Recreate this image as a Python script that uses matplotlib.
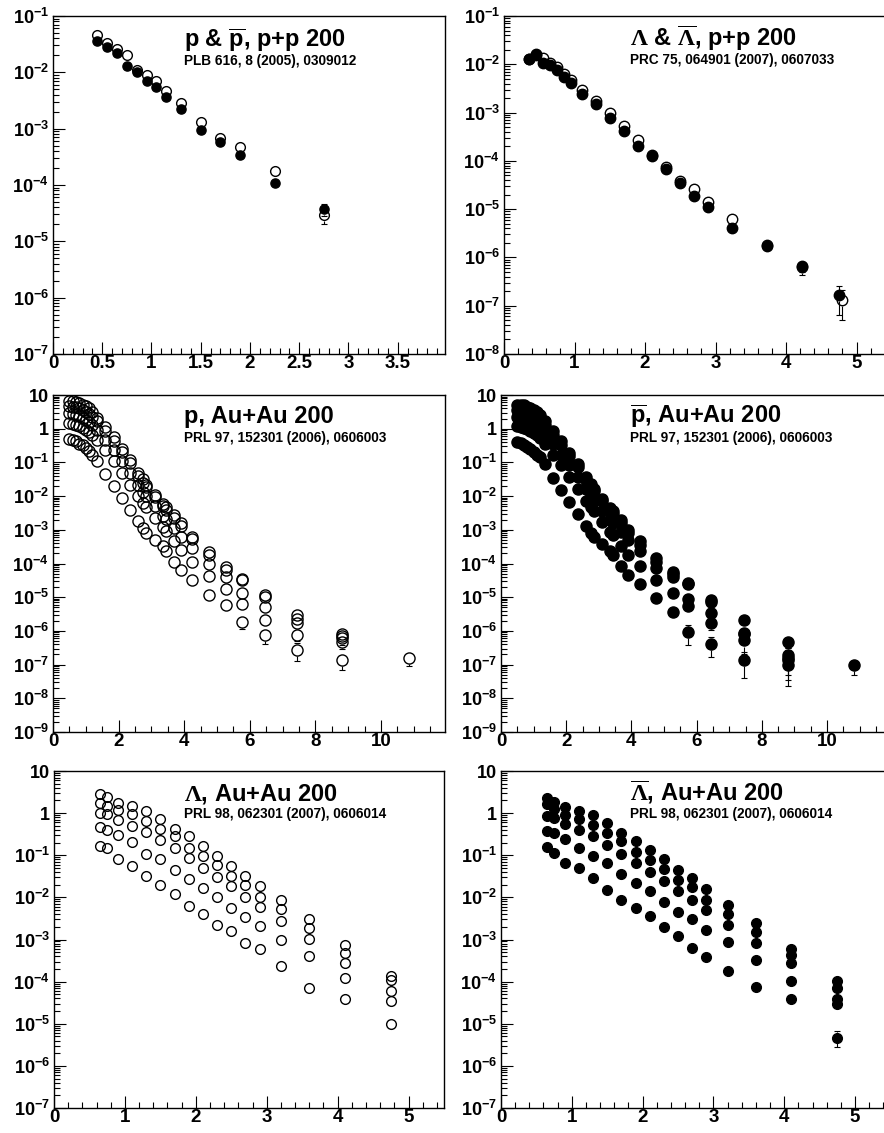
import numpy as np
import matplotlib
matplotlib.use("Agg")
import matplotlib.pyplot as plt
from matplotlib.ticker import FixedLocator, FuncFormatter

plt.rcParams['font.family'] = ['Liberation Sans', 'DejaVu Sans']
plt.rcParams['font.weight'] = 'bold'
plt.rcParams['mathtext.fontset'] = 'custom'
plt.rcParams['mathtext.rm'] = 'Liberation Serif'
plt.rcParams['mathtext.it'] = 'Liberation Serif:italic'
plt.rcParams['mathtext.bf'] = 'Liberation Sans:bold'

# ---- p & pbar, p+p 200 ----
pp_p_pt = [0.45, 0.55, 0.65, 0.75, 0.85, 0.95, 1.05, 1.15, 1.3, 1.5, 1.7, 1.9, 2.25, 2.75]
pp_p = [0.046, 0.033, 0.026, 0.020, 0.0112, 0.0089, 0.0070, 0.0047, 0.0029, 0.00131,
        0.00069, 0.00047, 0.000177, 2.9e-5]
pp_pbar = [0.036, 0.028, 0.0224, 0.013, 0.0102, 0.0070, 0.0054, 0.0036, 0.0022, 0.00093,
           0.00057, 0.000335, 0.000107, 3.7e-5]
pp_p_err = [0] * 13 + [0.3]
pp_pbar_err = [0] * 13 + [0.25]

# ---- Lambda & Lambdabar, p+p 200 ----
pp_lam_pt = [0.35, 0.45, 0.55, 0.65, 0.75, 0.85, 0.95, 1.1, 1.3, 1.5, 1.7, 1.9, 2.1, 2.3,
             2.5, 2.7, 2.9, 3.23, 3.73, 4.23, 4.8]
pp_alam_pt = [0.35, 0.45, 0.55, 0.65, 0.75, 0.85, 0.95, 1.1, 1.3, 1.5, 1.7, 1.9, 2.1, 2.3,
              2.5, 2.7, 2.9, 3.23, 3.73, 4.23, 4.75]
pp_lam = [0.0130, 0.0155, 0.0138, 0.0108, 0.0088, 0.0062, 0.0047, 0.0030, 0.00175, 0.0010,
          0.00053, 0.00027, 0.000132, 7.6e-5, 3.9e-5, 2.6e-5, 1.41e-5, 6.3e-6, 1.8e-6,
          6.3e-7, 1.33e-7]
pp_alam = [0.0127, 0.0162, 0.0108, 0.0095, 0.0075, 0.0055, 0.0041, 0.00248, 0.00149, 0.00079,
           0.00041, 0.000206, 0.000126, 6.7e-5, 3.4e-5, 1.9e-5, 1.13e-5, 4.0e-6, 1.76e-6,
           6.8e-7, 1.63e-7]
pp_lam_err = [0] * 19 + [0.3, 0.62]
pp_alam_err = [0] * 19 + [0.25, 0.6]

# ---- p and pbar, Au+Au 200 (five centralities, top to bottom) ----
aa_p_pt = [0.5, 0.6, 0.7, 0.8, 0.9, 1.0, 1.1, 1.2, 1.35, 1.6, 1.85, 2.1, 2.35, 2.6, 2.75,
           2.85, 3.1, 3.35, 3.45, 3.68, 3.89, 4.25, 4.76, 5.27, 5.75, 6.45, 7.45, 8.8]
aa_p = [
    [6.6, 6.5, 6.2, 5.6, 5.1, 4.6, 4.0, 3.2, 2.1, 1.12, 0.56, 0.25, 0.12, 0.050, 0.032, 0.022,
     0.011, 6.0e-3, 4.8e-3, 2.8e-3, 1.55e-3, 6.2e-4, 2.2e-4, 7.9e-5, 3.5e-5, 1.15e-5, 3.0e-6, 8.3e-7],
    [4.6, 4.5, 4.3, 4.0, 3.6, 3.2, 2.8, 2.3, 1.66, 0.85, 0.43, 0.20, 0.095, 0.040, 0.025, 0.018,
     9.3e-3, 5.0e-3, 4.0e-3, 2.2e-3, 1.26e-3, 5.5e-4, 1.78e-4, 6.6e-5, 3.2e-5, 1.0e-5, 2.3e-6, 7.1e-7],
    [2.9, 2.8, 2.6, 2.4, 2.1, 1.86, 1.58, 1.32, 0.91, 0.47, 0.23, 0.107, 0.050, 0.021, 0.0135, 0.010,
     5.0e-3, 2.6e-3, 2.1e-3, 1.12e-3, 6.2e-4, 2.8e-4, 1.0e-4, 4.0e-5, 1.35e-5, 5.1e-6, 1.7e-6, 6.0e-7],
    [1.48, 1.41, 1.32, 1.2, 1.07, 0.93, 0.79, 0.66, 0.46, 0.23, 0.11, 0.050, 0.022, 0.010, 6.3e-3, 4.7e-3,
     2.3e-3, 1.2e-3, 9.5e-4, 4.7e-4, 2.5e-4, 1.12e-4, 4.2e-5, 1.8e-5, 6.5e-6, 2.1e-6, 7.8e-7, 4.8e-7],
    [0.51, 0.47, 0.42, 0.36, 0.32, 0.27, 0.22, 0.17, 0.11, 0.045, 0.020, 8.9e-3, 4.0e-3, 1.8e-3, 1.12e-3,
     8.3e-4, 5.0e-4, 3.2e-4, 2.4e-4, 1.12e-4, 6.3e-5, 3.2e-5, 1.15e-5, 5.8e-6, 1.9e-6, 7.6e-7, 2.8e-7, 1.4e-7],
]
aa_pbar = [
    [5.2, 5.1, 4.9, 4.5, 4.1, 3.6, 3.2, 2.5, 1.7, 0.87, 0.43, 0.19, 0.089, 0.037, 0.023, 0.0166,
     8.3e-3, 4.4e-3, 3.5e-3, 1.9e-3, 9.8e-4, 4.6e-4, 1.5e-4, 5.6e-5, 2.6e-5, 8.1e-6, 2.1e-6, 4.7e-7],
    [3.6, 3.5, 3.4, 3.2, 2.9, 2.6, 2.2, 1.86, 1.29, 0.66, 0.32, 0.15, 0.071, 0.030, 0.019, 0.0138,
     7.1e-3, 3.7e-3, 3.0e-3, 1.58e-3, 7.9e-4, 3.5e-4, 1.12e-4, 5.0e-5, 2.4e-5, 7.1e-6, 8.9e-7, 1.9e-7],
    [2.3, 2.24, 2.1, 1.9, 1.7, 1.48, 1.26, 1.05, 0.71, 0.35, 0.17, 0.081, 0.037, 0.016, 0.010, 7.4e-3,
     3.7e-3, 1.95e-3, 1.55e-3, 8.5e-4, 4.9e-4, 2.3e-4, 7.6e-5, 4.1e-5, 9.1e-6, 3.4e-6, 7.9e-7, 1.6e-7],
    [1.17, 1.12, 1.05, 0.95, 0.85, 0.74, 0.63, 0.52, 0.35, 0.17, 0.083, 0.038, 0.0166, 7.4e-3, 4.7e-3,
     3.5e-3, 1.74e-3, 8.7e-4, 6.9e-4, 3.3e-4, 1.78e-4, 8.3e-5, 3.2e-5, 1.29e-5, 5.4e-6, 1.74e-6, 5.2e-7, 1.35e-7],
    [0.41, 0.37, 0.33, 0.29, 0.25, 0.21, 0.17, 0.14, 0.087, 0.035, 0.0155, 6.8e-3, 3.0e-3, 1.32e-3, 8.3e-4,
     6.2e-4, 3.7e-4, 2.3e-4, 1.78e-4, 8.3e-5, 4.5e-5, 2.4e-5, 9.5e-6, 3.7e-6, 9.3e-7, 4.2e-7, 1.35e-7, 9.5e-8],
]
# relative errors on the last four points (5.75, 6.45, 7.45, 8.8 GeV/c)
aa_p_err = [[0.1, 0.15, 0.2, 0.25], [0.1, 0.15, 0.2, 0.3], [0.15, 0.2, 0.25, 0.35],
            [0.2, 0.25, 0.35, 0.4], [0.4, 0.45, 0.55, 0.5]]
aa_pbar_err = [[0.15, 0.2, 0.3, 0.35], [0.2, 0.25, 0.45, 0.6], [0.2, 0.3, 0.5, 0.7],
               [0.3, 0.4, 0.6, 0.75], [0.6, 0.6, 0.7, 0.75]]
# single highest-pT point
aa_p_last = (10.85, 1.6e-7, 0.45)
aa_pbar_last = (10.83, 1.0e-7, 0.5)

# ---- Lambda and Lambdabar, Au+Au 200 ----
aa_lam_pt = [0.65, 0.75, 0.9, 1.1, 1.3, 1.5, 1.7, 1.9, 2.1, 2.3, 2.5, 2.7, 2.9, 3.2, 3.6, 4.1, 4.75]
aa_lam = [
    [2.91, 2.43, 1.78, 1.46, 1.11, 0.74, 0.43, 0.285, 0.166, 0.098, 0.056, 0.032, 0.019, 0.0087,
     0.0031, 7.6e-4, 1.35e-4],
    [1.78, 1.46, 1.17, 0.93, 0.66, 0.42, 0.28, 0.151, 0.096, 0.059, 0.033, 0.020, 0.0104, 0.0052,
     0.0019, 4.7e-4, 1.07e-4],
    [0.98, 0.95, 0.68, 0.49, 0.36, 0.23, 0.145, 0.085, 0.051, 0.030, 0.019, 0.0102, 0.0059, 0.0027,
     1.03e-3, 2.8e-4, 6.0e-5],
    [0.46, 0.40, 0.30, 0.21, 0.105, 0.080, 0.045, 0.027, 0.017, 0.0102, 0.0056, 0.0035, 0.0021,
     9.6e-4, 4.0e-4, 1.23e-4, 3.5e-5],
    [0.166, 0.145, 0.080, 0.056, 0.032, 0.020, 0.012, 0.0064, 0.0041, 0.0022, 0.00155, 8.3e-4,
     6.0e-4, 2.34e-4, 7.1e-5, 3.8e-5, 9.8e-6],
]
aa_alam = [
    [2.34, 1.85, 1.36, 1.11, 0.90, 0.57, 0.34, 0.22, 0.133, 0.080, 0.044, 0.0285, 0.0157, 0.0066,
     0.0024, 5.8e-4, 1.02e-4],
    [1.69, 1.22, 0.90, 0.71, 0.52, 0.34, 0.22, 0.12, 0.078, 0.047, 0.026, 0.0174, 0.0087, 0.0040,
     0.0015, 4.3e-4, 6.9e-5],
    [0.85, 0.75, 0.55, 0.40, 0.285, 0.174, 0.107, 0.067, 0.040, 0.024, 0.0138, 0.0085, 0.0049,
     0.0022, 8.3e-4, 2.8e-4, 3.8e-5],
    [0.38, 0.33, 0.24, 0.145, 0.096, 0.065, 0.036, 0.022, 0.0138, 0.0076, 0.0045, 0.0030, 0.0017,
     8.5e-4, 3.2e-4, 1.03e-4, 2.9e-5],
    [0.155, 0.115, 0.067, 0.049, 0.0285, 0.015, 0.0087, 0.0056, 0.0037, 0.0020, 0.00123, 6.3e-4,
     3.8e-4, 1.78e-4, 7.6e-5, 3.8e-5, 4.7e-6],
]
aa_alam_last_err = 0.4

titles = [r'p & $\overline{\mathbf{p}}$, p+p 200', r'$\Lambda$ & $\overline{\Lambda}$, p+p 200',
          'p, Au+Au 200', r'$\overline{\mathbf{p}}$, Au+Au 200',
          r'$\Lambda$, Au+Au 200', r'$\overline{\Lambda}$, Au+Au 200']
refs = ['PLB 616, 8 (2005), 0309012', 'PRC 75, 064901 (2007), 0607033',
        'PRL 97, 152301 (2006), 0606003', 'PRL 97, 152301 (2006), 0606003',
        'PRL 98, 062301 (2007), 0606014', 'PRL 98, 062301 (2007), 0606014']

W, H = 884, 1133
fig = plt.figure(figsize=(W / 100, H / 100), dpi=100)


def place(left, top, right, bottom):
    return fig.add_axes([left / W, 1 - bottom / H, (right - left) / W, (bottom - top) / H])


def ylab(v, pos):
    e = int(round(np.log10(v)))
    if e == 1:
        return '10'
    if e == 0:
        return '1'
    return r'$\mathdefault{10^{%d}}$' % e


def style(ax, xmax, elo, ehi, xmajor, xminor):
    ax.set_yscale('log')
    ax.set_xlim(0, xmax)
    ax.set_ylim(10.0 ** elo, 10.0 ** ehi)
    # only ticks inside the visible range
    ax.xaxis.set_major_locator(FixedLocator(np.arange(0, xmax + 1e-9, xmajor)))
    ax.xaxis.set_minor_locator(FixedLocator(np.arange(0, xmax + 1e-9, xminor)))
    ax.xaxis.set_major_formatter(FuncFormatter(lambda v, p: '%g' % round(v, 3)))
    dec = np.arange(elo, ehi + 1)
    ax.yaxis.set_major_locator(FixedLocator(10.0 ** dec))
    ax.yaxis.set_minor_locator(FixedLocator([m * 10.0 ** d for d in dec[:-1] for m in range(2, 10)]))
    ax.yaxis.set_major_formatter(FuncFormatter(ylab))
    ax.tick_params(which='both', direction='in', top=False, right=False, width=0.8)
    ax.tick_params(which='major', length=8.5)
    ax.tick_params(which='minor', length=4.5, labelleft=False, labelbottom=False)
    ax.tick_params(axis='x', pad=0.5, labelsize=13.5)
    ax.tick_params(axis='y', pad=3, labelsize=13)
    for s in ax.spines.values():
        s.set_linewidth(1.0)


def pts(ax, x, y, filled, ms, frac=None):
    y = np.asarray(y, dtype=float)
    if frac is not None:
        # error bars drawn only outside the marker, ROOT style
        lo_d, hi_d = np.log10(ax.get_ylim())
        ppd = ax.get_window_extent().height / (hi_d - lo_d)
        k = 10 ** ((ms / 2 + 0.5) * 100 / 72 / ppd)
        for xi, yi, fi in zip(x, y, frac):
            if fi <= 0:
                continue
            lo, hi = yi * (1 - fi), yi * (1 + fi)
            if lo < yi / k:
                ax.vlines(xi, lo, yi / k, color='black', lw=0.8)
                ax.plot([xi], [lo], marker='_', ms=4.5, mew=0.8, color='black')
            if hi > yi * k:
                ax.vlines(xi, yi * k, hi, color='black', lw=0.8)
                ax.plot([xi], [hi], marker='_', ms=4.5, mew=0.8, color='black')
    ax.plot(x, y, 'o', ls='none', ms=ms, mfc='black' if filled else 'none',
            mec='black', mew=1.0)


def hi_err(n, tail):
    return [0] * (n - len(tail)) + list(tail)


# panel 1
ax1 = place(53, 16, 445, 354)
style(ax1, 3.98, -7, -1, 0.5, 0.1)
pts(ax1, pp_p_pt, pp_p, False, 7, pp_p_err)
pts(ax1, pp_p_pt, pp_pbar, True, 6.6, pp_pbar_err)

# panel 2
ax2 = place(504, 16, 504 + 5.5 * 70.5, 354)
style(ax2, 5.5, -8, -1, 1, 0.2)
pts(ax2, pp_lam_pt, pp_lam, False, 7.5, pp_lam_err)
pts(ax2, pp_alam_pt, pp_alam, True, 7.5, pp_alam_err)

# panel 3
ax3 = place(53, 395, 445, 732)
style(ax3, 11.95, -9, 1, 2, 0.5)
for ser, fr in zip(aa_p, aa_p_err):
    pts(ax3, aa_p_pt, ser, False, 8, hi_err(len(ser), fr))
pts(ax3, [aa_p_last[0]], [aa_p_last[1]], False, 8, [aa_p_last[2]])

# panel 4
ax4 = place(501, 395, 501 + 11.95 * 32.6, 732)
style(ax4, 11.95, -9, 1, 2, 0.5)
for ser, fr in zip(aa_pbar, aa_pbar_err):
    pts(ax4, aa_p_pt, ser, True, 8, hi_err(len(ser), fr))
pts(ax4, [aa_pbar_last[0]], [aa_pbar_last[1]], True, 8, [aa_pbar_last[2]])

# panel 5
ax5 = place(54, 771, 444, 1108)
style(ax5, 5.5, -7, 1, 1, 0.2)
for ser in aa_lam:
    pts(ax5, aa_lam_pt, ser, False, 7)

# panel 6
ax6 = place(501, 771, 501 + 5.5 * 70.8, 1108)
style(ax6, 5.5, -7, 1, 1, 0.2)
for i, ser in enumerate(aa_alam):
    fr = hi_err(len(ser), [aa_alam_last_err]) if i == 4 else None
    pts(ax6, aa_lam_pt, ser, True, 7, fr)

# titles and references, in pixel positions
title_pos = [(184, 47, 65), (630, 46, 64), (184, 423, 442), (630, 423, 442), (184, 800, 818), (630, 800, 818)]
for (x, yb, ys), t, r in zip(title_pos, titles, refs):
    fig.text(x / W, 1 - yb / H, t, fontsize=17, fontweight='bold', va='baseline', ha='left')
    fig.text(x / W, 1 - ys / H, r, fontsize=9.8, fontweight='bold', va='baseline', ha='left')

fig.savefig('out.png', dpi=100)
